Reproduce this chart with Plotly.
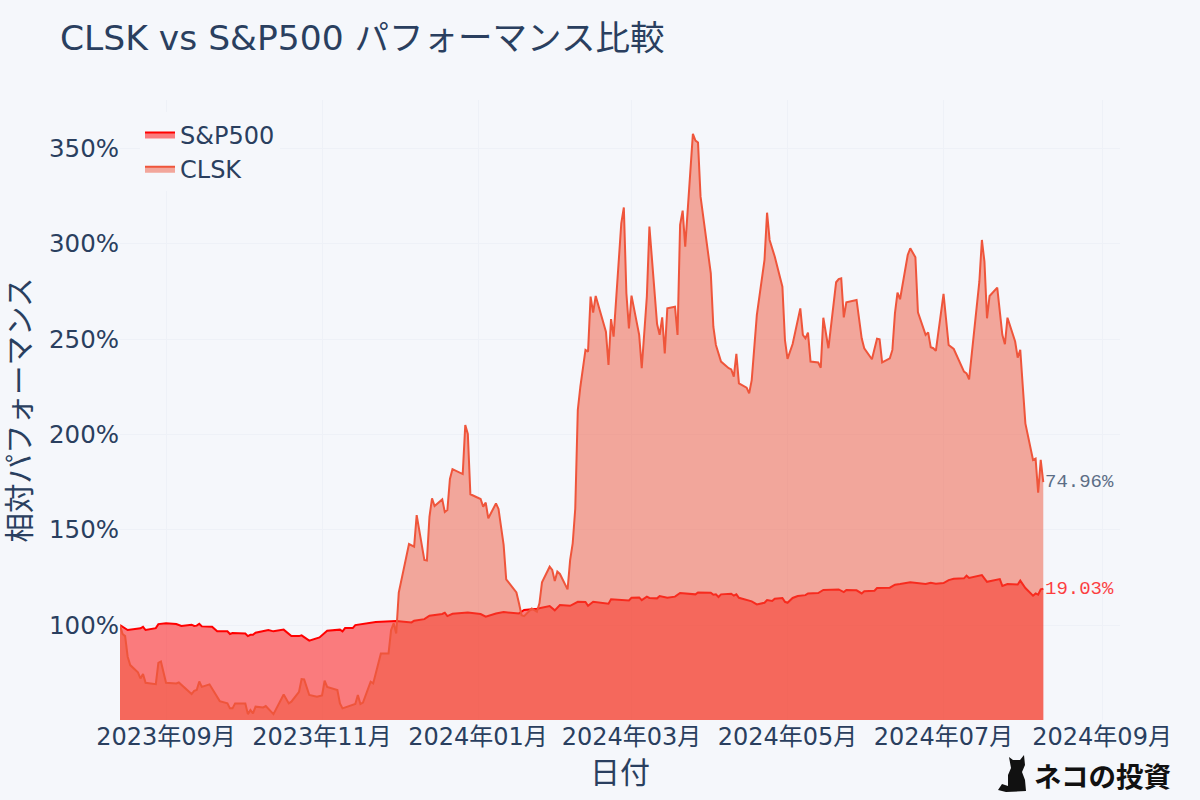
import pandas as pd
import plotly.graph_objects as go

START_DATE = "2023-08-14"

# calendar-day offsets from START_DATE and relative performance (%)
clsk_days = [0,1,2,3,4,7,8,9,10,14,15,16,18,22,23,28,29,30,31,32,35,39,42,43,44,45,49,50,51,52,53,56,57,59,60,64,66,67,70,71,72,74,77,79,80,81,85,86,87,92,93,94,95,98,99,102,105,106,107,108,
 109,113,115,116,119,120,121,122,123,126,127,128,129,130,134,135,136,137,141,142,143,144,147,148,150,151,155,156,157,158,161,163,164,165,168,169,170,171,172,175,176,177,178,179,
 180,182,183,184,185,186,190,191,192,193,196,197,198,199,200,203,204,206,207,210,211,212,213,214,217,218,219,220,221,224,225,226,227,231,232,233,235,238,239,240,241,242,245,246,247,249,252,253,254,256,259,260,261,263,266,267,268,269,270,273,274,
 275,277,280,281,282,283,284,288,290,291,294,296,297,298,301,302,303,304,305,308,309,311,312,315,316,317,318,319,322,324,326,330,331,332,336,337,338,339,340,343,345,346,347,350,351,352,353,354,357,358,359,360,361]
clsk_values = [100,95.3,94.2,83.4,79.0,75.2,72.0,74.3,69.7,69.0,80.2,80.9,69.7,69.4,69.9,63.8,65.5,65.9,70.4,67.6,68.9,60.1,58.9,56.3,56.3,58.9,58.9,53.3,55.4,53.7,57.2,56.8,57.5,54.5,53.3,63.6,58.9,59.8,65.0,71.7,71.5,63.3,62.4,63.1,70.8,67.6,65.9,58.9,56.3,58.6,63.3,58.6,59.3,70.3,69.4,85.1,85.1,97.4,100.9,95.6,
 117,142.5,141.1,157.7,134.1,133.8,156.8,166.5,162.4,165.9,159.3,160.3,176.6,181.8,179.2,204.9,200.2,168.6,166.1,162.1,164.2,156,163.8,160.9,142,124,117.1,111.4,105.2,104.7,108.7,107,111.4,122.4,130.6,128.9,123.1,128,126.8,118.7,134.1,142.8,161,212.8,
 225,244.3,243.4,272.3,263.9,272.6,253.9,236.4,260.5,251.3,310.7,319,274,255.6,272.8,252.2,234.7,272.3,309,257.9,252.2,261.4,242.5,266.1,267,252.2,309.9,317.4,298.5,357.6,354.1,353.1,324.7,284.5,256.5,246.9,238.2,234.7,234.1,230.3,242.2,226.8,224.5,221.5,228.5,262.6,291.5,316.3,302,293.3,277.5,249.5,239.6,247.4,266.1,252.2,250.4,253.4,238.2,237.7,235,
 261.2,245.2,279.8,281.5,281.9,261.4,269.3,270.5,250.4,245.2,239.4,250.2,249.9,237.8,239.9,244.3,263.5,274.4,270.9,294.1,297.6,292.9,264,252.2,253.5,245.7,245.2,243.8,273.7,246.9,244.8,232.9,232,228.9,280.1,302,290.6,260.9,272.6,277,252.2,247.3,261.2,248.7,240.3,244.3,225,205.8,186.6,187.3,169.4,186.6,174.96]

sp500_days = [0,3,8,9,10,14,15,18,22,24,28,29,30,31,32,36,38,42,43,44,49,50,51,52,53,58,60,64,67,70,71,74,78,81,86,87,88,91,92,100,108,114,115,119,121,126,127,128,130,136,141,143,147,150,156,158,163,168,170,172,176,179,182,183,185,191,192,199,200,203,204,206,207,210,211,214,
 217,219,225,226,231,232,233,234,235,239,240,241,242,247,249,252,253,255,256,259,260,261,263,265,268,269,273,275,281,283,284,288,290,291,295,296,301,303,305,309,315,317,319,322,324,326,330,331,332,337,339,344,345,347,351,352,354,357,358,359,360,361]
sp500_values = [100,97.4,98.3,99.1,97.4,98.4,100.5,100.9,100.5,99.5,100.2,99.5,99.7,100.7,99.3,99.1,96.7,96.7,95.3,95.8,95.6,94.2,94.9,94.9,96,97.4,96.7,97.6,94.2,94.2,94.6,91.8,93.5,97,97.6,96.7,98.4,98.4,100,101.6,102.1,101.4,102.3,103.1,104.9,105.8,106.5,104.7,105.9,106.6,105.8,104.4,106.1,106.8,106.1,107.9,108.6,110,107.7,110.5,110.1,112.2,112.1,110.1,112.2,111.2,113.5,112.9,114.3,114.5,113.1,114.9,114.2,114,115.2,114.3,
 114.9,116.8,116.1,117.1,117,115.9,116.1,114.7,116.1,116.4,115.4,116.1,114.3,112.4,110.8,111.7,113.1,112.6,113.8,114.2,112.2,111.7,114.2,115.2,115.7,116.6,116.8,118.4,118.7,117.3,118.4,118.2,116.6,117.7,118,119.4,119.6,121.2,121.5,122.4,121.5,122.2,121.7,122,123.6,124.3,124.5,125.9,124.7,126.2,122.7,124.1,120.5,121.5,121.3,123.3,119.4,115.4,116.6,115.9,118.7,119.03]

logo_text = "ネコの投資"
# decorative cat silhouette outline (logo), pixel position within the 1200x800 page
cat_outline = [(998,790),(1002,784),(1008,786),(1008,775),(1011,768),(1009,757),(1013,760),(1020,760),(1024,755),(1025,765),(1022,772),(1025,780),(1026,791),(1006,792)]

start = pd.Timestamp(START_DATE)
clsk_dates = [start + pd.Timedelta(days=d) for d in clsk_days]
sp500_dates = [start + pd.Timedelta(days=d) for d in sp500_days]

FONT = '"DejaVu Sans", "Noto Sans CJK JP", sans-serif'
INK = "#2a3f5f"
BG = "#f5f7fb"
GRID = "#eef1f7"

fig = go.Figure()
fig.add_trace(go.Scatter(x=sp500_dates, y=sp500_values, name="S&P500", mode="lines", fill="tozeroy",
                         line=dict(color="#ff0000", width=2), hoverinfo="skip"))
fig.add_trace(go.Scatter(x=clsk_dates, y=clsk_values, name="CLSK", mode="lines", fill="tozeroy",
                         line=dict(color="#EF553B", width=2), hoverinfo="skip"))

MONO = dict(family='"Liberation Mono", monospace', size=19)
fig.add_annotation(x=clsk_dates[-1], y=clsk_values[-1], text=f"{clsk_values[-1]-100:.2f}%", showarrow=False, opacity=0.75,
                   xanchor="left", yanchor="middle", xshift=0, font=dict(color=INK, **MONO))
fig.add_annotation(x=sp500_dates[-1], y=sp500_values[-1], text=f"{sp500_values[-1]-100:.2f}%", showarrow=False, opacity=0.75,
                   xanchor="left", yanchor="middle", xshift=0, font=dict(color="#ff0000", **MONO))

def px(pt):
    return (pt[0]-120)/1000, (720-pt[1])/620
path = "M " + " L ".join(f"{px(p)[0]:.4f},{px(p)[1]:.4f}" for p in cat_outline) + " Z"
fig.add_shape(type="path", path=path, xref="paper", yref="paper", fillcolor="#111111", line=dict(width=0), layer="above")
fig.add_annotation(xref="paper", yref="paper", x=1.053, y=0.0, yshift=-55, text=f"<b>{logo_text}</b>", showarrow=False,
                   xanchor="right", yanchor="middle", font=dict(family='"Noto Sans CJK JP"', size=27.5, color="#111111"))

fig.update_layout(
    width=1200, height=800,
    template="plotly_white",
    paper_bgcolor=BG, plot_bgcolor=BG,
    font=dict(family=FONT, color=INK),
    margin=dict(l=120, r=80, t=100, b=80),
    title=dict(text="CLSK vs S&P500 パフォーマンス比較", x=0.05, xanchor="left", y=0.953, yanchor="middle", font=dict(size=34.5)),
    legend=dict(x=0.02, y=0.98, xanchor="left", yanchor="top", bgcolor=BG, font=dict(size=24)),
    showlegend=True,
)
fig.update_xaxes(title=dict(text="日付", font=dict(size=30), standoff=11), automargin=False,
                 range=["2023-08-14", "2024-09-08"], dtick="M2", tick0="2023-09-01", tickformat="%Y年%m月",
                 tickfont=dict(size=24), gridcolor=GRID, zeroline=False, showline=False)
fig.update_yaxes(title=dict(text="相対パフォーマンス", font=dict(size=29.5), standoff=9), automargin=False,
                 range=[50.2, 375.4], tick0=0, dtick=50, ticksuffix="%",
                 tickfont=dict(size=24.5), gridcolor=GRID, zeroline=False, showline=False)

fig.write_html("out.html", config={"displayModeBar": False},
               post_script="document.documentElement.style.background='#f5f7fb';document.body.style.margin='0';document.body.style.background='#f5f7fb';")
